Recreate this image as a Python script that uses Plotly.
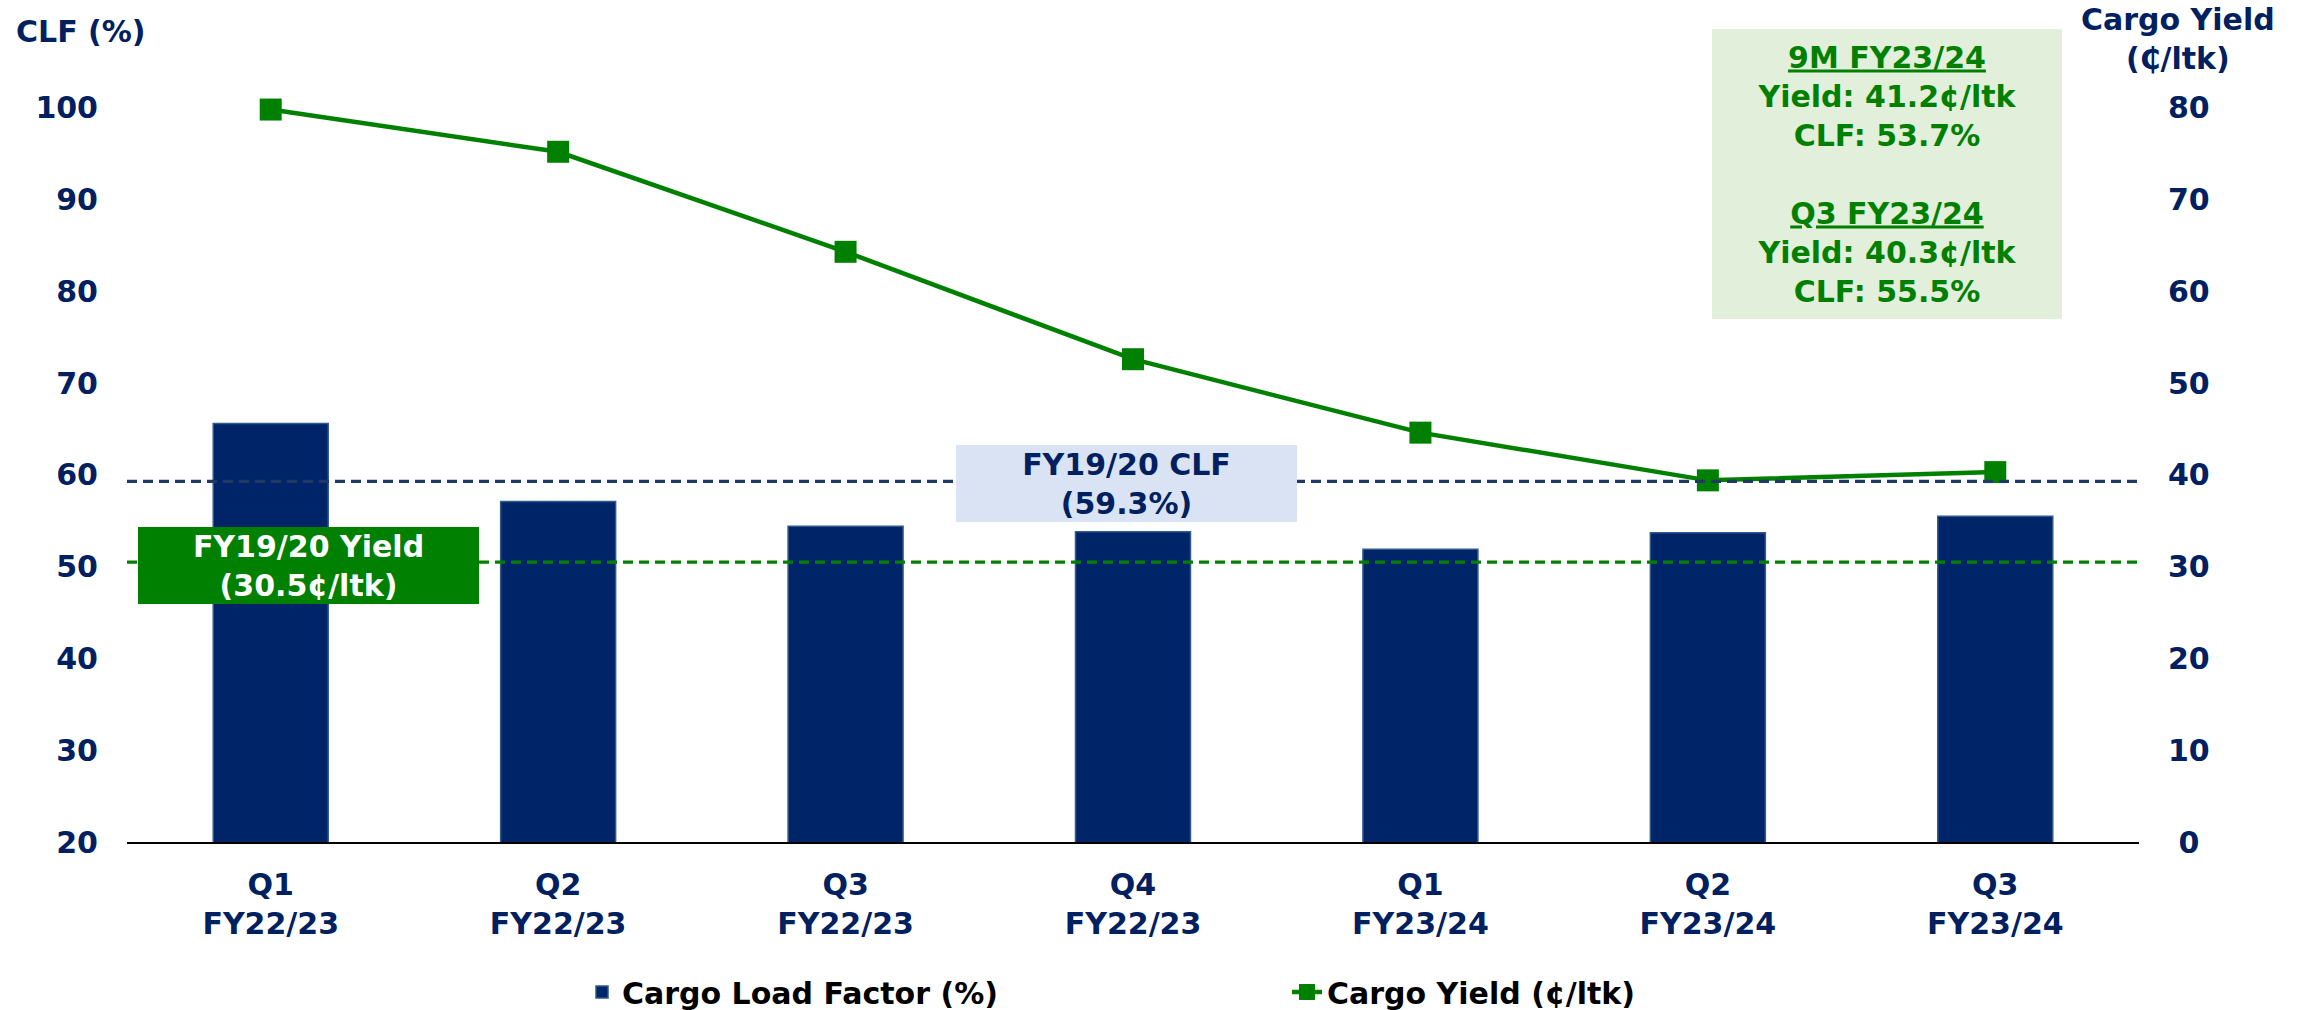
import plotly.graph_objects as go

# ---- data ----
quarters = ["Q1", "Q2", "Q3", "Q4", "Q1", "Q2", "Q3"]
fiscal_years = ["FY22/23", "FY22/23", "FY22/23", "FY22/23", "FY23/24", "FY23/24", "FY23/24"]
categories = [f"{q}<br>{fy}" for q, fy in zip(quarters, fiscal_years)]
clf_values = [65.6, 57.1, 54.4, 53.8, 51.9, 53.7, 55.5]          # Cargo Load Factor (%)
yield_values = [79.8, 75.2, 64.3, 52.6, 44.6, 39.4, 40.3]        # Cargo Yield (¢/ltk)
clf_ref = 59.3      # FY19/20 CLF
yield_ref = 30.5    # FY19/20 Yield
left_ticks = [20, 30, 40, 50, 60, 70, 80, 90, 100]
right_ticks = [0, 10, 20, 30, 40, 50, 60, 70, 80]
right_ticktext = ["\u00a00", "10", "20", "30", "40", "50", "60", "70", "80"]

NAVY = "#002060"
BAR = "#002468"
GREEN = "#008000"
FONT = "DejaVu Sans"

W, H = 2305, 1010
L, R, T, B = 127, 166, 71, 168
PW, PH = W - L - R, H - T - B


def px(x):
    return (x - L) / PW


def py(y):
    return (H - B - y) / PH


fig = go.Figure()
fig.add_trace(go.Bar(
    x=categories, y=clf_values, name="Cargo Load Factor (%)",
    marker=dict(color=BAR, line=dict(color="#2E5A8C", width=1.5)),
    width=0.4, yaxis="y", legend="legend",
))
fig.add_trace(go.Scatter(
    x=categories, y=yield_values, name="Cargo Yield (¢/ltk)",
    mode="lines+markers", line=dict(color=GREEN, width=4.5),
    marker=dict(symbol="square", size=22, color=GREEN),
    yaxis="y2", cliponaxis=False, legend="legend2",
))

# reference dashed lines
fig.add_shape(type="line", xref="paper", x0=0, x1=1, yref="y", y0=clf_ref, y1=clf_ref,
              line=dict(color="#203864", width=3.3, dash="10px,6px"), layer="above")
fig.add_shape(type="line", xref="paper", x0=0, x1=1, yref="y2", y0=yield_ref, y1=yield_ref,
              line=dict(color=GREEN, width=3.3, dash="10px,6px"), layer="above")

bold = dict(family=FONT, size=30, weight="bold")

annotations = [
    dict(text="CLF (%)", x=px(81), y=py(32), font=dict(**bold, color=NAVY)),
    dict(text="Cargo Yield<br>(₵/ltk)", x=px(2178), y=py(39), font=dict(**bold, color=NAVY)),
    dict(text=f"FY19/20 Yield<br>({yield_ref}¢/ltk)", x=px(308.5), y=py(565.5),
         width=341, height=77, bgcolor=GREEN, font=dict(**bold, color="white")),
    dict(text=f"FY19/20 CLF<br>({clf_ref}%)", x=px(1126.5), y=py(483.5),
         width=341, height=77, bgcolor="#DAE3F3", font=dict(**bold, color=NAVY)),
    dict(text="<u>9M FY23/24</u><br>Yield: 41.2¢/ltk<br>CLF: 53.7%<br><br>"
              "<u>Q3 FY23/24</u><br>Yield: 40.3¢/ltk<br>CLF: 55.5%",
         x=px(1887), y=py(174), width=350, height=290, bgcolor="#E2EFDA",
         font=dict(**bold, color=GREEN)),
]
for a in annotations:
    a.update(xref="paper", yref="paper", xanchor="center", yanchor="middle",
             showarrow=False, borderpad=0, borderwidth=0)

fig.update_layout(
    width=W, height=H,
    margin=dict(l=L, r=R, t=T, b=B, autoexpand=False),
    paper_bgcolor="white", plot_bgcolor="white",
    font=dict(family=FONT, size=30, color=NAVY, weight="bold"),
    bargap=0.6,
    annotations=annotations,
    xaxis=dict(showgrid=False, showline=True, linecolor="black", linewidth=2,
               tickfont=dict(**bold, color=NAVY), ticks="", ticklabelstandoff=15),
    yaxis=dict(range=[20, 104], tickvals=left_ticks, showgrid=False, zeroline=False,
               showline=False, tickfont=dict(**bold, color=NAVY), ticklabelstandoff=28),
    yaxis2=dict(range=[0, 84], tickvals=right_ticks, ticktext=right_ticktext,
                overlaying="y", side="right", showgrid=False, zeroline=False,
                showline=False, tickfont=dict(**bold, color=NAVY), ticklabelstandoff=28),
    legend=dict(orientation="h", x=px(582), y=py(992), xanchor="left", yanchor="middle",
                font=dict(**bold, color="black"), bgcolor="rgba(0,0,0,0)"),
    legend2=dict(orientation="h", x=px(1287), y=py(992), xanchor="left", yanchor="middle",
                 font=dict(**bold, color="black"), bgcolor="rgba(0,0,0,0)"),
    showlegend=True,
)

fig.write_html("out.html", config={"displayModeBar": False},
               post_script="document.body.style.margin='0';document.body.style.overflow='hidden';")
